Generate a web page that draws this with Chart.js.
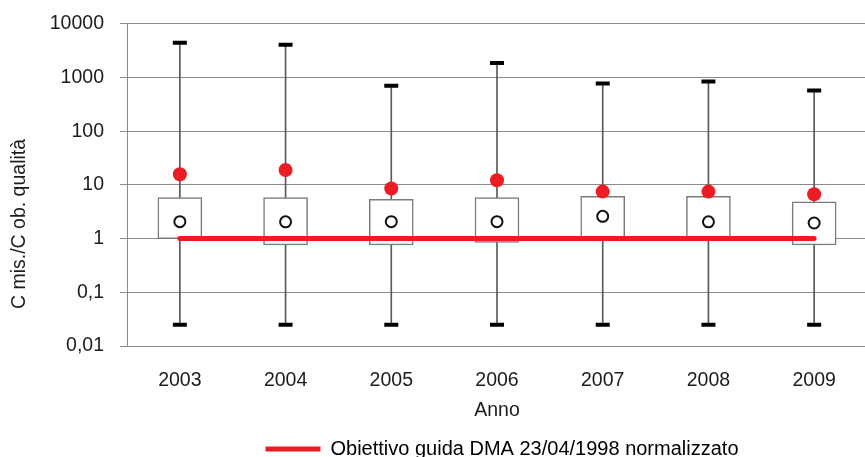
<!DOCTYPE html>
<html>
<head>
<meta charset="utf-8">
<script src="https://cdn.jsdelivr.net/npm/chart.js@4.4.1/dist/chart.umd.min.js"></script>
<style>
  html, body { margin: 0; padding: 0; background: #ffffff; overflow: hidden; }
  #wrap { width: 865px; height: 457px; overflow: hidden; position: relative; }
  canvas { display: block; }
</style>
</head>
<body>
<div id="wrap"><canvas id="c" width="878" height="470"></canvas></div>
<script>
// Categories (years)
const years = ['2003', '2004', '2005', '2006', '2007', '2008', '2009'];

// Box-plot statistics per year (C mis./C ob. qualità)
const minVals = [0.025, 0.025, 0.025, 0.025, 0.025, 0.025, 0.025];
const q1Vals = [1.0, 0.76, 0.76, 0.85, 1.0, 1.0, 0.76];
const medianVals = [2.07, 2.05, 2.07, 2.07, 2.6, 2.05, 1.95];
const q3Vals = [5.8, 5.8, 5.4, 5.8, 6.1, 6.1, 4.85];
const maxVals = [4450, 4080, 700, 1870, 775, 845, 575];
const meanVals = [15.8, 19, 8.55, 12.2, 7.5, 7.5, 6.7];

// Guide objective (normalised)
const guideVals = [1, 1, 1, 1, 1, 1, 1];
const guideLabel = 'Obiettivo guida DMA 23/04/1998 normalizzato';

// Y axis ticks
const yTicks = [0.01, 0.1, 1, 10, 100, 1000, 10000];
const yTickLabels = ['0,01', '0,1', '1', '10', '100', '1000', '10000'];

const RED = '#ec1c24';
const GRID = '#8a8a8a';
const TEXT = '#1c1c1c';
const FONT = "'Liberation Sans', Arial, sans-serif";
const FS = 19.5;

const whiskerData = years.map((_, i) => [minVals[i], maxVals[i]]);
const boxData = years.map((_, i) => [q1Vals[i], q3Vals[i]]);

// Y-axis title drawn rotated at the left edge
const yTitlePlugin = {
  id: 'yTitle',
  afterDraw(chart) {
    const ctx = chart.ctx;
    ctx.save();
    ctx.translate(20, 224);
    ctx.rotate(-Math.PI / 2);
    ctx.fillStyle = TEXT;
    ctx.font = FS + 'px ' + FONT;
    ctx.textAlign = 'center';
    ctx.textBaseline = 'middle';
    ctx.fillText('C mis./C ob. qualità', 0, 0);
    ctx.restore();
  }
};

// Center the legend under the plot area
const legendPlacePlugin = {
  id: 'legendPlace',
  afterLayout(chart) {
    const lg = chart.legend;
    if (!lg) return;
    const h = lg.bottom - lg.top;
    lg.left = chart.chartArea.left + 5;
    lg.right = chart.chartArea.right + 5;
    lg.width = lg.right - lg.left;
    lg.top = 429;
    lg.bottom = lg.top + h;
  }
};

new Chart(document.getElementById('c'), {
  type: 'bar',
  data: {
    labels: years,
    datasets: [
      {
        label: 'whisker',
        type: 'bar',
        data: whiskerData,
        backgroundColor: '#5a5a5a',
        borderWidth: 0,
        barThickness: 1,
        grouped: false,
        order: 7
      },
      {
        label: 'box',
        type: 'bar',
        data: boxData,
        backgroundColor: '#ffffff',
        borderColor: '#7a7a7a',
        borderWidth: 1.5,
        borderSkipped: false,
        barThickness: 44,
        grouped: false,
        order: 6
      },
      {
        label: guideLabel,
        type: 'line',
        data: guideVals,
        borderColor: RED,
        backgroundColor: RED,
        borderWidth: 5,
        borderCapStyle: 'round',
        pointRadius: 0,
        fill: false,
        order: 5
      },
      {
        label: 'max',
        type: 'line',
        data: maxVals,
        showLine: false,
        pointStyle: 'line',
        pointRadius: 7,
        pointBorderWidth: 4,
        pointBorderColor: '#000000',
        order: 4
      },
      {
        label: 'min',
        type: 'line',
        data: minVals,
        showLine: false,
        pointStyle: 'line',
        pointRadius: 7,
        pointBorderWidth: 4,
        pointBorderColor: '#000000',
        order: 3
      },
      {
        label: 'median',
        type: 'line',
        data: medianVals,
        showLine: false,
        pointStyle: 'circle',
        pointRadius: 5.5,
        pointBorderWidth: 2,
        pointBorderColor: '#111111',
        pointBackgroundColor: '#ffffff',
        order: 2
      },
      {
        label: 'mean',
        type: 'line',
        data: meanVals,
        showLine: false,
        pointStyle: 'circle',
        pointRadius: 7,
        pointBorderWidth: 0,
        pointBackgroundColor: RED,
        order: 1
      }
    ]
  },
  options: {
    responsive: false,
    animation: false,
    events: [],
    layout: { padding: { top: 22, left: 0, right: 0, bottom: 18 } },
    plugins: {
      tooltip: { enabled: false },
      legend: {
        display: true,
        position: 'bottom',
        maxHeight: 30,
        labels: {
          boxWidth: 55,
          boxHeight: 5,
          color: TEXT,
          padding: 10,
          font: { family: FONT, size: 20 },
          generateLabels() {
            return [{
              text: guideLabel,
              fillStyle: RED,
              strokeStyle: RED,
              lineWidth: 0,
              hidden: false,
              datasetIndex: 2
            }];
          }
        }
      }
    },
    scales: {
      x: {
        type: 'category',
        offset: true,
        afterFit(scale) { scale.height = 76; },
        grid: { display: false, drawTicks: false },
        border: { display: false },
        ticks: {
          color: TEXT,
          padding: 23,
          font: { family: FONT, size: FS },
          maxRotation: 0
        },
        title: {
          display: true,
          text: 'Anno',
          color: TEXT,
          font: { family: FONT, size: FS },
          padding: { top: 0, bottom: 0 }
        }
      },
      y: {
        type: 'logarithmic',
        min: 0.01,
        max: 10000,
        afterFit(scale) { scale.width = 127; },
        afterBuildTicks(scale) {
          scale.ticks = yTicks.map(v => ({ value: v }));
        },
        grid: {
          color: GRID,
          lineWidth: 1,
          drawTicks: true,
          tickLength: 7,
          tickColor: GRID
        },
        border: { display: true, color: GRID, width: 1 },
        ticks: {
          color: TEXT,
          padding: 16,
          autoSkip: false,
          font: { family: FONT, size: FS, lineHeight: 0.8 },
          callback(value) {
            const i = yTicks.indexOf(value);
            return i >= 0 ? yTickLabels[i] : '';
          }
        }
      }
    }
  },
  plugins: [yTitlePlugin, legendPlacePlugin]
});
</script>
</body>
</html>
